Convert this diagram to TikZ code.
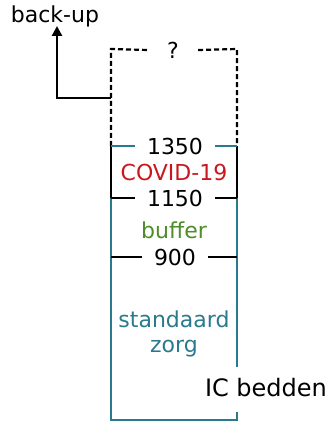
\documentclass[tikz,border=0pt]{standalone}
\usepackage{fontspec}
\setmainfont{DejaVu Sans}
\usetikzlibrary{arrows.meta}
\definecolor{tealc}{HTML}{2A7A8E}
\definecolor{redc}{HTML}{C8181E}
\definecolor{greenc}{HTML}{4F8C2A}
\begin{document}
\begin{tikzpicture}[x=1pt,y=-1pt,
  lbl/.style={font=\fontsize{22}{25}\selectfont, inner ysep=0pt, inner xsep=12pt},
  edge/.style={line width=2.8pt},
  dash5/.style={line width=2.2pt, dash pattern=on 5pt off 3pt}]
\useasboundingbox (0,0) rectangle (331,422);
% labels
\node[lbl, inner xsep=0pt] (backup) at (55,16) {back-up};
\node[lbl, inner xsep=19pt] (q) at (173,50) {?};
\node[lbl] (n1350) at (175,146) {1350};
\node[lbl, text=redc] (covid) at (174,172) {COVID-19};
\node[lbl] (n1150) at (175,198) {1150};
\node[lbl, text=greenc] (buffer) at (174,230) {buffer};
\node[lbl] (n900) at (175,257) {900};
\node[lbl, text=tealc, align=center, font=\fontsize{22}{25}\selectfont] (std) at (174,334) {standaard\\zorg};
\node[font=\fontsize{24}{28}\selectfont, inner sep=0pt] (ic) at (266,388) {IC bedden};
% box corners
\coordinate (tl) at (111,49);
\coordinate (tr) at (237,49);
\coordinate (l1350) at (111,146);
\coordinate (r1350) at (237,146);
\coordinate (l1150) at (111,198);
\coordinate (r1150) at (237,198);
\coordinate (l900) at (111,257);
\coordinate (r900) at (237,257);
\coordinate (bl) at (111,420);
\coordinate (br) at (237,420);
\coordinate (gapt) at (237,367);
\coordinate (gapb) at (237,412);
% dashed upper part
\draw[dash5] (l1350) -- (tl) -- (q.west);
\draw[dash5] (q.east) -- (tr) -- (r1350);
% black part between 1350 and 1150
\draw[edge] (l1350) -- (l1150);
\draw[edge] (r1350) -- (r1150);
% teal lower part
\draw[edge, tealc] (l1150) -- (bl) -- (br) -- (gapb);
\draw[edge, tealc] (r1150) -- (gapt);
% ticks
\draw[edge, tealc] (l1350) -- (n1350.west);
\draw[edge, tealc] (n1350.east) -- (r1350);
\draw[edge] (l1150) -- (n1150.west);
\draw[edge] (n1150.east) -- (r1150);
\draw[edge] (l900) -- (n900.west);
\draw[edge] (n900.east) -- (r900);
% back-up arrow
\coordinate (tap) at (111,98);
\coordinate (up) at (57,26);
\draw[edge, -{Triangle[length=10pt,width=10pt]}] (tap) -| (up);
\end{tikzpicture}
\end{document}
